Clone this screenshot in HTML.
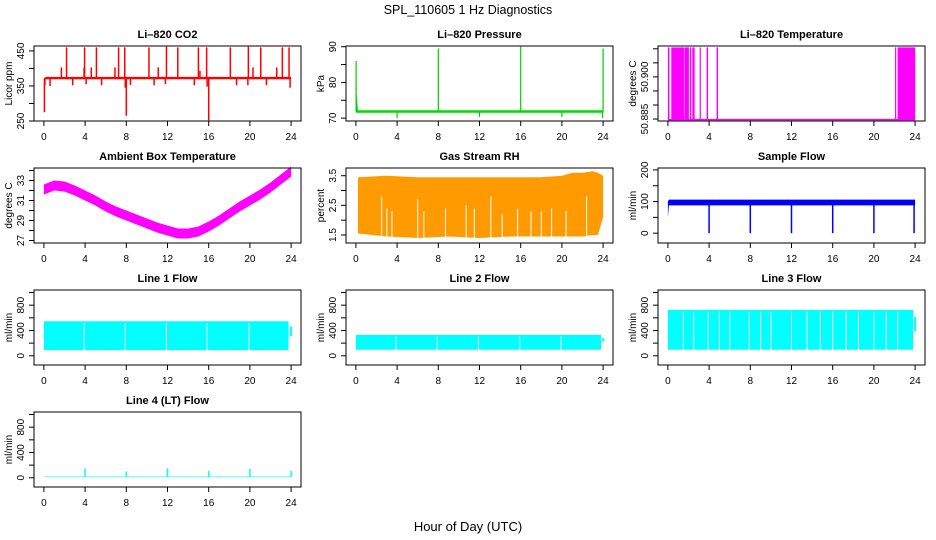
<!DOCTYPE html>
<html><head><meta charset="utf-8">
<style>
html,body{margin:0;padding:0;background:#fff;}
svg{display:block;font-family:"Liberation Sans",sans-serif;}
</style></head>
<body>
<svg id="chart" width="936" height="540" viewBox="0 0 936 540" xmlns="http://www.w3.org/2000/svg">
<text x="468" y="14" text-anchor="middle" font-size="12.5">SPL_110605  1 Hz Diagnostics</text>
<text x="468" y="531" text-anchor="middle" font-size="13">Hour of Day (UTC)</text>
</svg>
<script>
// ---- data ----
const xTicks = [0,4,8,12,16,20,24];
// CO2
const co2BandT = [0,0.2,24];
const co2BandHi = [372,376,376];
const co2BandLo = [366,369,369];
const co2SpikeT = [0.05,0.1,0.6,1.7,2.2,2.8,3.9,3.95,4.1,4.6,5.1,5.6,6.9,7.25,7.85,7.9,8.0,8.4,10.2,10.7,11.1,11.8,11.9,13.0,14.6,15.0,15.15,15.8,15.85,16.0,18.1,18.7,19.8,19.85,20.3,21.05,21.6,22.6,23.15,23.8,23.9];
const co2SpikeV = [275,352,350,403,460,352,402,460,355,403,460,352,403,460,460,345,265,353,460,352,403,355,462,460,352,460,393,460,348,252,460,352,352,462,403,460,352,403,460,460,345];
// Pressure
const prBandT = [0,0.2,24];
const prBandHi = [79,72.2,72.2];
const prBandLo = [71.5,71.5,71.5];
const prSpikeT = [0.02,4,8,12,16,20,23.95,24];
const prSpikeV = [86,70,89.5,70.3,90,70.3,70,89.5];
// Li-820 temperature: high-state intervals
const tmpLow = 50.8848;
const tmpHigh = 50.9105;
const tmpStart = [0.0,0.33,1.6,2.14,2.37,3.08,3.76,4.73,22.05,22.3];
const tmpEnd   = [0.15,1.56,2.04,2.27,2.6,3.14,3.9,4.87,22.1,24.0];
// Ambient box temperature
const ambT = [0,1,2,3,4,5,6,7,8,9,10,11,12,13,14,15,16,17,18,19,20,21,22,23,24];
const ambMid = [32.1,32.5,32.4,32.0,31.5,31.0,30.4,29.9,29.5,29.1,28.7,28.3,28.0,27.7,27.7,27.9,28.4,29.0,29.7,30.4,31.0,31.6,32.3,33.1,33.9];
const ambHalf = 0.5;
// Gas stream RH
const rhT  = [0.2,3,6,9,12,15,18,20,21,22,23,23.5,24];
const rhHi = [3.45,3.5,3.45,3.45,3.45,3.45,3.45,3.5,3.6,3.6,3.65,3.6,3.5];
const rhLo = [1.55,1.45,1.4,1.45,1.4,1.45,1.45,1.45,1.45,1.45,1.5,1.5,2.1];
const rhGapT = [2.5,3.0,3.5,6.0,6.6,8.7,10.7,11.5,13.1,14.2,15.7,17.0,18.0,19.0,20.4,22.4];
const rhGapTop = [2.8,2.4,2.3,2.7,2.3,2.4,2.5,2.4,2.8,2.2,2.4,2.3,2.3,2.4,2.3,2.8];
// Sample flow
const sfBandT = [0,0.1,24];
const sfBandHi = [100,106,106];
const sfBandLo = [50,88,88];
const sfDipT = [4,8,12,16,20,23.9];
const sfDipV = [0,0,0,0,0,0];
// Line flows
const l1Band = [90,545]; const l1Gaps = [3.9,7.9,11.9,15.85,19.9]; const l1End = 23.75;
const l2Band = [95,330]; const l2Gaps = [3.9,7.9,11.9,15.9,19.9]; const l2End = 23.8;
const l3Band = [95,725]; const l3Gaps = [1.5,2.5,3.9,5.0,6.0,7.9,9.0,10.0,12.0,13.5,14.8,16.0,17.3,18.5,20.0,21.2,22.3]; const l3End = 23.8;
const l4Base = [10,20];
const l4SpikeT = [4,8,12,16,20,24];
const l4SpikeV = [150,100,150,110,140,110];

// ---- layout ----
const NS = "http://www.w3.org/2000/svg";
const svg = document.getElementById('chart');
const colX = [34,346,658], rowY = [46,168,290,412], PW = 267, PH = 75;
function el(tag, attrs, parent){const e=document.createElementNS(NS,tag);for(const k in attrs)e.setAttribute(k,attrs[k]);(parent||svg).appendChild(e);return e;}

function panel(col,row,title,ylab,ylo,yhi,ticks,labels,name){
  const L=colX[col],T=rowY[row],B=T+PH,R=L+PW;
  const g=el('g',{});
  
  
  const xs=t=>L+(t+0.96)*PW/25.92;
  const ys=v=>B-(v-ylo)/(yhi-ylo)*PH;
  const plot=el('g',{},g);
  
  
  const ttl=el('text',{x:(L+R)/2,y:T-8,'text-anchor':'middle','font-size':11,'font-weight':'bold'},g);
  ttl.textContent=title;
  
  
  const xa=el('g',{},g);
  
  
  xTicks.forEach(t=>{
    el('line',{x1:xs(t),x2:xs(t),y1:B,y2:B+5,stroke:'#000','stroke-width':1},xa);
    const tx=el('text',{x:xs(t),y:B+19,'text-anchor':'middle','font-size':10},xa);
    tx.textContent=t;
    
    
  });
  const ya=el('g',{},g);
  
  
  ticks.forEach((v,i)=>{
    const y=ys(v);
    el('line',{x1:L-5,x2:L,y1:y,y2:y,stroke:'#000','stroke-width':1},ya);
    if(labels[i]){
      const tx=el('text',{x:L-10,y:y,'text-anchor':'middle','font-size':10,transform:`rotate(-90 ${L-10} ${y})`},ya);
      tx.textContent=labels[i];
      
      
    }
  });
  const yl=el('text',{x:L-22,y:(T+B)/2,'text-anchor':'middle','font-size':10,transform:`rotate(-90 ${L-22} ${(T+B)/2})`},g);
  yl.textContent=ylab;
  
  
  return {g:plot,xs,ys,frame:()=>el('rect',{x:L,y:T,width:PW,height:PH,fill:'none',stroke:'#000','stroke-width':1},g),L,T,B,R};
}
function band(p,T,Hi,Lo,color,name){
  let pts=T.map((t,i)=>p.xs(t)+','+p.ys(Hi[i]));
  for(let i=T.length-1;i>=0;i--)pts.push(p.xs(T[i])+','+p.ys(Lo[i]));
  const e=el('polygon',{points:pts.join(' '),fill:color},p.g);
  
  
}
function vline(p,t,v1,v2,color,w,name){
  const e=el('line',{x1:p.xs(t),x2:p.xs(t),y1:p.ys(v1),y2:p.ys(v2),stroke:color,'stroke-width':w||1.2},p.g);
  
  
}

// CO2
let p=panel(0,0,'Li\u2013820 CO2','Licor ppm',250,464,[250,300,350,400,450],['250','','350','','450'],'co2');
band(p,co2BandT,co2BandHi,co2BandLo,'#ff0000','co2-band');
co2SpikeT.forEach((t,i)=>vline(p,t,370,co2SpikeV[i],'#ff0000',1.5,'co2-spike'));
p.frame();

// Pressure
p=panel(1,0,'Li\u2013820 Pressure','kPa',69.2,90.2,[70,75,80,85,90],['70','','80','','90'],'pressure');
band(p,prBandT,prBandHi,prBandLo,'#00dd00','pressure-band');
prSpikeT.forEach((t,i)=>vline(p,t,71.8,prSpikeV[i],'#00cc00',1.2,'pressure-spike'));
p.frame();

// Li-820 Temperature
p=panel(2,0,'Li\u2013820 Temperature','degrees C',50.8843,50.911,[50.885,50.890,50.895,50.900,50.905,50.910],['50.885','','','50.900','',''],'li820-temp');
{const e=el('line',{x1:p.xs(0),x2:p.xs(24),y1:p.ys(tmpLow),y2:p.ys(tmpLow),stroke:'#ff00ff','stroke-width':1.5},p.g);

}
tmpStart.forEach((s,i)=>{
  const e=el('rect',{x:p.xs(s),y:p.ys(tmpHigh),width:Math.max(1.2,p.xs(tmpEnd[i])-p.xs(s)),height:p.ys(tmpLow)-p.ys(tmpHigh),fill:'#ff00ff'},p.g);
  
  
});
p.frame();

// Ambient
p=panel(0,1,'Ambient Box Temperature','degrees C',26.75,34.25,[27,28,29,30,31,32,33,34],['27','','29','','31','','33',''],'ambient');
band(p,ambT,ambMid.map(v=>v+ambHalf),ambMid.map(v=>v-ambHalf),'#ff00ff','ambient-band');
p.frame();

// RH
p=panel(1,1,'Gas Stream RH','percent',1.23,3.76,[1.5,2.0,2.5,3.0,3.5],['1.5','','2.5','','3.5'],'rh');
band(p,rhT,rhHi,rhLo,'#ff9a00','rh-band');
rhGapT.forEach((t,i)=>vline(p,t,1.2,rhGapTop[i],'#ffffff',1,'rh-gap'));
p.frame();

// Sample flow
p=panel(2,1,'Sample Flow','ml/min',-31,206,[0,50,100,150,200],['0','','100','','200'],'sample-flow');
band(p,sfBandT,sfBandHi,sfBandLo,'#0000ff','sample-flow-band');
sfDipT.forEach((t,i)=>vline(p,t,95,sfDipV[i],'#0000ff',1.5,'sample-flow-dip'));
p.frame();

// Line flows
const fTicks=[0,200,400,600,800,1000], fLabels=['0','','400','','800',''];
function flowPanel(col,row,title,name,bnd,gaps,end){
  const q=panel(col,row,title,'ml/min',-146,1040,fTicks,fLabels,name);
  band(q,[0,end],[bnd[1],bnd[1]],[bnd[0],bnd[0]],'#00ffff',name+'-band');
  gaps.forEach(t=>vline(q,t,bnd[0]-20,bnd[1]-30,'#ffffff',1,name+'-gap'));
  vline(q,24,bnd[1]*0.85,bnd[0]+bnd[1]*0.4,'#00ffff',2,name+'-end');
  q.frame();
}
flowPanel(0,2,'Line 1 Flow','line1-flow',l1Band,l1Gaps,l1End);
flowPanel(1,2,'Line 2 Flow','line2-flow',l2Band,l2Gaps,l2End);
flowPanel(2,2,'Line 3 Flow','line3-flow',l3Band,l3Gaps,l3End);
p=panel(0,3,'Line 4 (LT) Flow','ml/min',-146,1040,fTicks,fLabels,'line4-flow');
band(p,[0,24],[l4Base[1],l4Base[1]],[l4Base[0],l4Base[0]],'#00ffff','line4-band');
l4SpikeT.forEach((t,i)=>vline(p,t,15,l4SpikeV[i],'#00ffff',1.5,'line4-spike'));
p.frame();
</script>
</body></html>
